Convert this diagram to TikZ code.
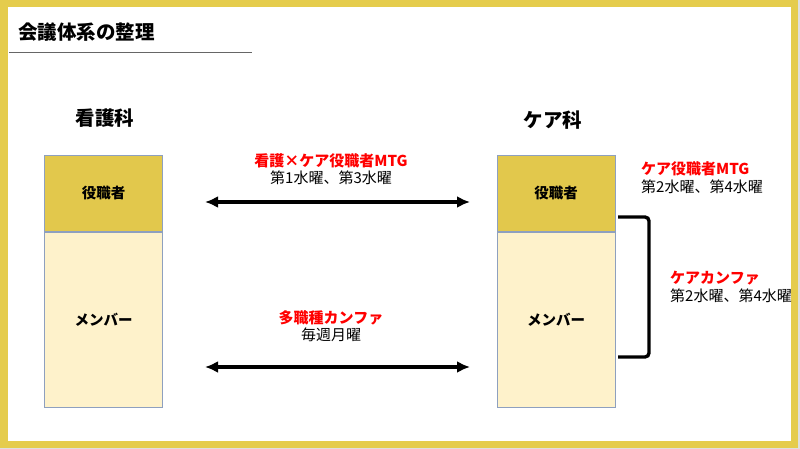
\documentclass[tikz,border=0pt]{standalone}
\usepackage{fontspec}
\usepackage{xcolor}
\usetikzlibrary{arrows.meta,positioning}
\setmainfont{Noto Sans CJK JP}
\definecolor{FrameYellow}{HTML}{E5CC4C}
\definecolor{RoleGold}{HTML}{E2C84C}
\definecolor{MemberCream}{HTML}{FEF2CB}
\definecolor{BoxEdge}{HTML}{8EA0BF}
\definecolor{MtgRed}{HTML}{FF0000}
\tikzset{
  mtgrole/.style={draw=BoxEdge, fill=RoleGold, minimum width=118pt, minimum height=76pt, font=\fontsize{14.5}{16}\selectfont\bfseries},
  mtgmember/.style={draw=BoxEdge, fill=MemberCream, minimum width=118pt, minimum height=175pt, font=\fontsize{14.5}{16}\selectfont\bfseries},
  mtghead/.style={font=\fontsize{19.5}{22}\selectfont\bfseries},
  mtgred/.style={text=MtgRed, inner sep=0pt, font=\fontsize{15}{17}\selectfont\bfseries},
  mtgday/.style={inner sep=0pt, font=\fontsize{15}{17}\selectfont},
  mtgarrow/.style={{Latex[length=13pt,width=12pt]}-{Latex[length=13pt,width=12pt]}, line width=3.2pt},
  mtgbracket/.style={line width=3.4pt, rounded corners=4pt}
}
\begin{document}
\begin{tikzpicture}[x=1pt,y=-1pt]
  % frame
  \fill[gray!25] (0,0) rectangle (800,449);
  \fill[FrameYellow] (0,0) rectangle (798,448);
  \fill[white] (8,7) rectangle (791,441);
  \useasboundingbox (0,0) rectangle (800,449);

  \node[mtghead, anchor=west, inner sep=0pt] (title) at (18,32) {会議体系の整理};
  \draw[gray!80!black, line width=0.8pt] (9,52.5) -- (252,52.5);

  % 看護科
  \node[mtghead] (nsHead) at (105,118) {看護科};
  \node[mtgrole] (nsRole) at (103.5,193.5) {役職者};
  \node[mtgmember, below=0pt of nsRole] (nsMem) {メンバー};

  % ケア科
  \node[mtghead] (cwHead) at (553,120) {ケア科};
  \node[mtgrole] (cwRole) at (556,193.5) {役職者};
  \node[mtgmember, below=0pt of cwRole] (cwMem) {メンバー};

  % joint meetings
  \coordinate (upL) at (205,202);
  \coordinate (upR) at (470,202);
  \coordinate (loL) at (205,367);
  \coordinate (loR) at (470,367);
  \draw[mtgarrow] (upL) -- (upR);
  \draw[mtgarrow] (loL) -- (loR);
  \node[mtgred] (jointMtg) at (331,161) {看護×ケア役職者MTG};
  \node[mtgday] (jointDay) at (331,178) {第1水曜、第3水曜};
  \node[mtgred] (multiConf) at (331,318) {多職種カンファ};
  \node[mtgday] (multiDay) at (331,335) {毎週月曜};

  % ケア科 internal
  \node[mtgred, anchor=west] (cwMtg) at (641,169) {ケア役職者MTG};
  \node[mtgday, anchor=west] (cwMtgDay) at (641,187) {第2水曜、第4水曜};
  \coordinate (brTop) at (618,217);
  \coordinate (brBot) at (618,357);
  \draw[mtgbracket] (brTop) -- (649,217) -- (649,357) -- (brBot);
  \node[mtgred, anchor=west] (cwConf) at (670,278) {ケアカンファ};
  \node[mtgday, anchor=west] (cwConfDay) at (670,296) {第2水曜、第4水曜};
\end{tikzpicture}
\end{document}
